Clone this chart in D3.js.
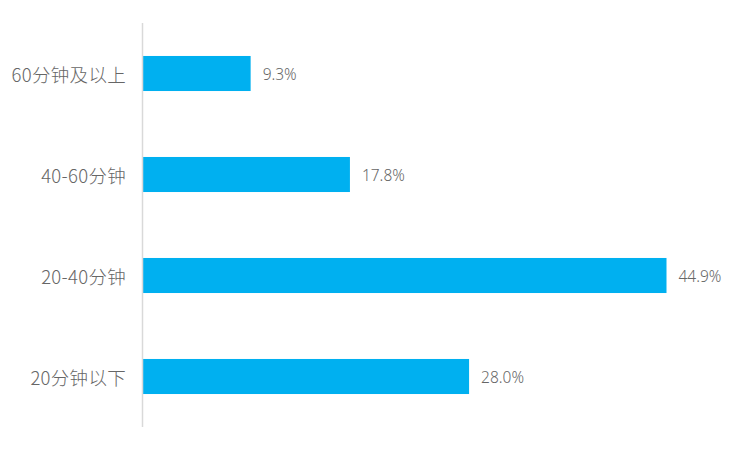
<!DOCTYPE html>
<html><head><meta charset="utf-8">
<script src="https://cdn.jsdelivr.net/npm/d3@7"></script>
<style>body{margin:0;background:#fff;}</style>
</head><body>
<svg id="c" width="750" height="450"></svg>
<script>
const categories = ["60分钟及以上","40-60分钟","20-40分钟","20分钟以下"];
const values = [9.3, 17.8, 44.9, 28.0];
const labels = ["9.3%","17.8%","44.9%","28.0%"];

const svg = d3.select("#c");
const x0 = 142, yTop = 23, yBot = 427;
const x = d3.scaleLinear().domain([0, 44.9]).range([x0, 666.5]);
const y = d3.scaleBand().domain(categories).range([yTop, yBot]).paddingInner(0.653).paddingOuter(0.3265);

svg.selectAll("rect.bar").data(values).enter().append("rect")
  .attr("x", x(0)+1)
  .attr("y", (d,i)=>y(categories[i]))
  .attr("width", d=>x(d)-x(0)-1)
  .attr("height", y.bandwidth())
  .attr("fill", "#00b0f0");

svg.append("line").attr("x1", x0+0.5).attr("x2", x0+0.5).attr("y1", yTop).attr("y2", yBot)
  .attr("stroke", "#d9d9d9").attr("stroke-width", 1.5);

svg.selectAll("text.cat").data(categories).enter().append("text")
  .attr("x", 126).attr("y", d=>y(d)+y.bandwidth()/2)
  .attr("text-anchor","end").attr("dominant-baseline","central")
  .attr("font-family","'Noto Sans CJK SC','Noto Sans',sans-serif").attr("font-size",18.5)
  .attr("font-weight",300).attr("letter-spacing",0.3)
  .attr("fill","#666666").text(d=>d);

svg.selectAll("text.val").data(values).enter().append("text")
  .attr("x", d=>x(d)+12).attr("y", (d,i)=>y(categories[i])+y.bandwidth()/2)
  .attr("dominant-baseline","central")
  .attr("font-family","'Noto Sans','Noto Sans CJK SC',sans-serif").attr("font-size",15.5)
  .attr("font-weight",300)
  .attr("fill","#666666").text((d,i)=>labels[i]);
</script>
</body></html>
